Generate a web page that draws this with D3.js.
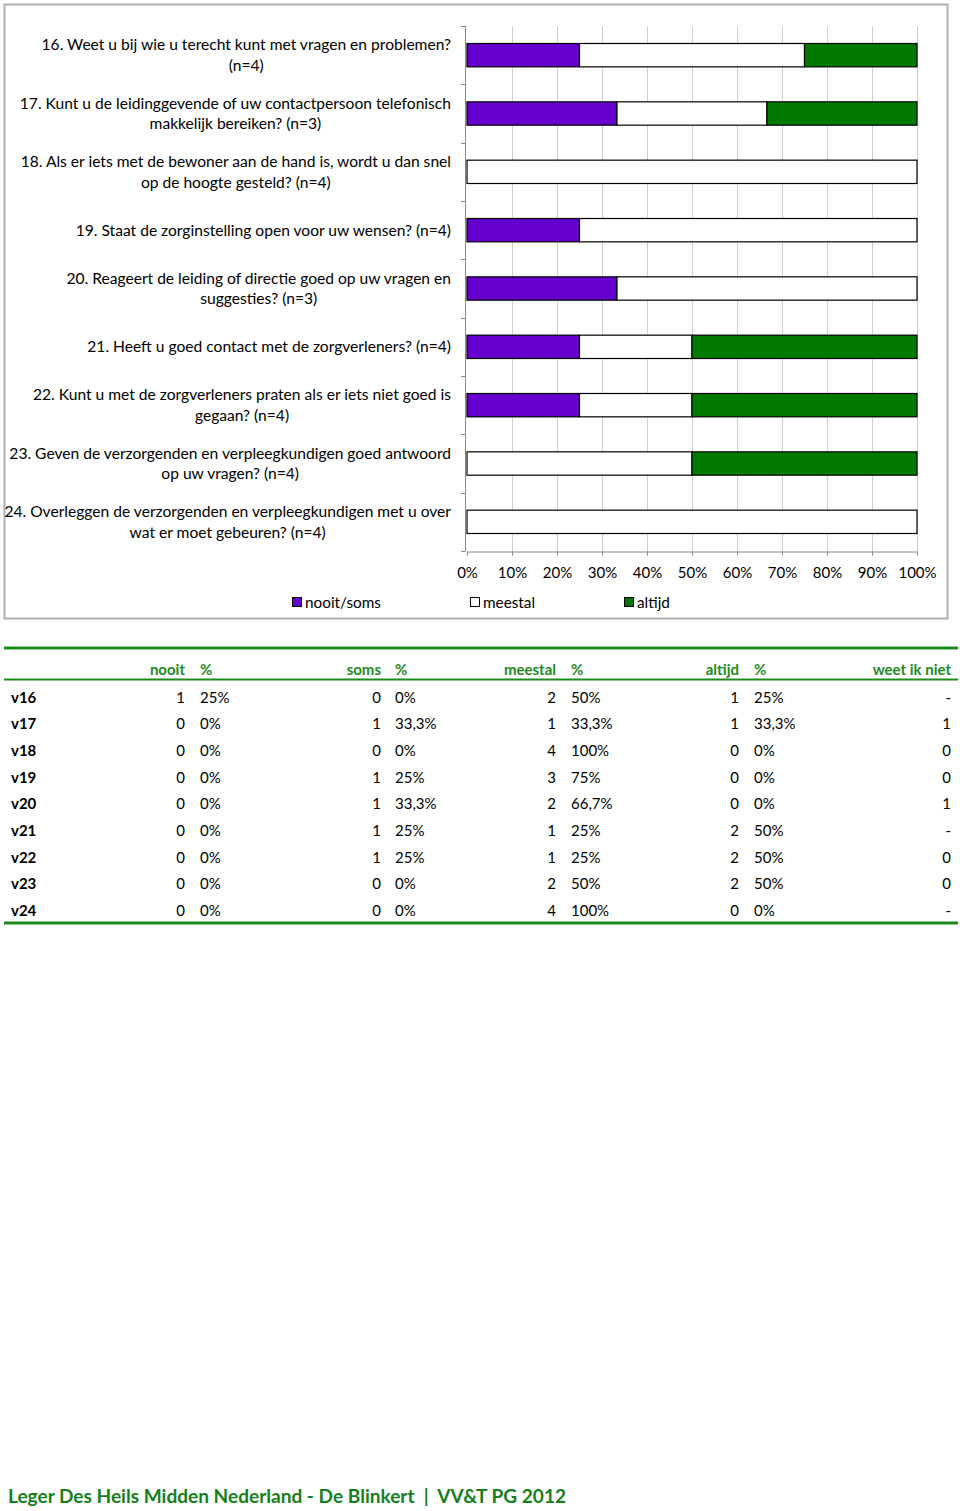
<!DOCTYPE html>
<html><head><meta charset="utf-8">
<script src="https://cdn.jsdelivr.net/npm/d3@7"></script>
<style>
body{margin:0;background:#fff;}
svg{display:block;font-family:Lato,"Open Sans",sans-serif;}
</style></head>
<body>
<svg id="c" width="960" height="1511"></svg>
<script>
// ---- data ----
const rowIds = ["v16","v17","v18","v19","v20","v21","v22","v23","v24"];
const questionLines = [
  ["16. Weet u bij wie u terecht kunt met vragen en problemen?","(n=4)"],
  ["17. Kunt u de leidinggevende of uw contactpersoon telefonisch","makkelijk bereiken? (n=3)"],
  ["18. Als er iets met de bewoner aan de hand is, wordt u dan snel","op de hoogte gesteld? (n=4)"],
  ["19. Staat de zorginstelling open voor uw wensen? (n=4)"],
  ["20. Reageert de leiding of directie goed op uw vragen en","suggesties? (n=3)"],
  ["21. Heeft u goed contact met de zorgverleners? (n=4)"],
  ["22. Kunt u met de zorgverleners praten als er iets niet goed is","gegaan? (n=4)"],
  ["23. Geven de verzorgenden en verpleegkundigen goed antwoord","op uw vragen? (n=4)"],
  ["24. Overleggen de verzorgenden en verpleegkundigen met u over","wat er moet gebeuren? (n=4)"]
];
const nooit   = [1,0,0,0,0,0,0,0,0];
const soms    = [0,1,0,1,1,1,1,0,0];
const meestal = [2,1,4,3,2,1,1,2,4];
const altijd  = [1,1,0,0,0,2,2,2,0];
const weetIkNiet = ["-","1","0","0","1","-","0","0","-"];
const seriesNames = ["nooit/soms","meestal","altijd"];
const seriesColors = ["#6600CC","#FFFFFF","#007A00"];
const xTicks = [0,0.1,0.2,0.3,0.4,0.5,0.6,0.7,0.8,0.9,1];
const tableHeaders = ["nooit","%","soms","%","meestal","%","altijd","%","weet ik niet"];
const footerText = "Leger Des Heils Midden Nederland - De Blinkert  |  VV&T PG 2012";

// ---- derived ----
const rows = rowIds.map((id,i)=>{
  const n = nooit[i]+soms[i]+meestal[i]+altijd[i];
  return {id, lines:questionLines[i], n,
    "nooit/soms":(nooit[i]+soms[i])/n, "meestal":meestal[i]/n, "altijd":altijd[i]/n,
    pn:nooit[i]/n, ps:soms[i]/n, pm:meestal[i]/n, pa:altijd[i]/n};
});
const pctFmt = v => { const p = v*100; return (Math.abs(p-Math.round(p))<1e-9 ? String(Math.round(p)) : p.toFixed(1).replace(".",",")) + "%"; };

const svg = d3.select("#c");

// chart frame
svg.append("rect").attr("x",4.5).attr("y",4.5).attr("width",943).attr("height",614)
  .attr("fill","#fff").attr("stroke","#b0b0b0").attr("stroke-width",2);

const x = d3.scaleLinear().domain([0,1]).range([467,917]);
const y = d3.scaleBand().domain(rowIds).range([26,551]).paddingInner(0.6).paddingOuter(0.3);

// gridlines
svg.append("g").selectAll("line").data(xTicks.slice(1)).join("line")
  .attr("x1",d=>x(d)+0.5).attr("x2",d=>x(d)+0.5).attr("y1",26).attr("y2",551)
  .attr("stroke","#cfcfcf").attr("stroke-width",1);

// bars
const stack = d3.stack().keys(seriesNames)(rows);
const color = d3.scaleOrdinal().domain(seriesNames).range(seriesColors);
svg.append("g").selectAll("g").data(stack).join("g")
  .attr("fill",d=>color(d.key))
  .selectAll("rect").data(d=>d.filter(s=>s[1]-s[0]>1e-9)).join("rect")
  .attr("x",d=>x(d[0])).attr("width",d=>x(d[1])-x(d[0]))
  .attr("y",d=>y(d.data.id)).attr("height",y.bandwidth())
  .attr("stroke","#000").attr("stroke-width",1.2);

// y axis (ticks at category boundaries)
const step = y.step();
const y0 = y(rowIds[0]) - y.paddingOuter()*step;
const bounds = d3.range(rowIds.length+1).map(i=>y0+i*step);
const ya = svg.append("g");
ya.append("line").attr("x1",465.5).attr("x2",465.5).attr("y1",26).attr("y2",551).attr("stroke","#888");
ya.selectAll("line.t").data(bounds).join("line").attr("class","t")
  .attr("x1",461).attr("x2",465.5).attr("y1",d=>Math.round(d)+0.5).attr("y2",d=>Math.round(d)+0.5).attr("stroke","#888");

// x axis
const xa = svg.append("g").attr("transform","translate(0,551.5)")
  .call(d3.axisBottom(x).tickValues(xTicks).tickFormat(d3.format(".0%")).tickSize(4).tickPadding(12).tickSizeOuter(0));
xa.select(".domain").attr("stroke","#888");
xa.selectAll(".tick line").attr("stroke","#888");
xa.selectAll("text").attr("font-size",15).attr("fill","#000").attr("font-family","Lato");

// category labels
const labelRight = 451;
const lg = svg.append("g").attr("font-size",15.6).attr("fill","#000");
rows.forEach(r=>{
  const cy = y(r.id)+y.bandwidth()/2;
  const t = lg.append("text").attr("text-anchor","middle");
  const nl = r.lines.length;
  r.lines.forEach((ln,j)=>{
    t.append("tspan").attr("y", cy + (j-(nl-1)/2)*20.5 + 5.5).text(ln);
  });
  let maxW = 0;
  t.selectAll("tspan").each(function(){maxW=Math.max(maxW,this.getComputedTextLength());});
  t.selectAll("tspan").attr("x", labelRight - maxW/2);
});

// legend
const legX = [292,470,624];
const leg = svg.append("g").attr("font-size",15.3);
seriesNames.forEach((s,i)=>{
  leg.append("rect").attr("x",legX[i]+0.5).attr("y",597.5).attr("width",9).attr("height",9)
    .attr("fill",color(s)).attr("stroke","#000");
  leg.append("text").attr("x",legX[i]+13).attr("y",607.5).text(s);
});

// ---- table ----
const green = "#1E8A1E";
const tbl = svg.append("g").attr("font-size",15);
tbl.append("line").attr("x1",4).attr("x2",958).attr("y1",648).attr("y2",648).attr("stroke",green).attr("stroke-width",3);
tbl.append("line").attr("x1",4).attr("x2",958).attr("y1",679.5).attr("y2",679.5).attr("stroke",green).attr("stroke-width",2);
const colX = [185,200,381,395,556,571,739,754,951];
const colAnchor = ["end","start","end","start","end","start","end","start","end"];
tableHeaders.forEach((h,i)=>{
  tbl.append("text").attr("x",colX[i]).attr("y",674.5).attr("text-anchor",colAnchor[i])
    .attr("font-weight","bold").attr("fill",green).text(h);
});
const rowY = d3.scalePoint().domain(rowIds).range([702.5,916]);
rows.forEach((r,k)=>{
  const yy = rowY(r.id);
  tbl.append("text").attr("x",11).attr("y",yy).attr("font-weight","bold").text(r.id);
  const vals = [nooit[k],pctFmt(r.pn),soms[k],pctFmt(r.ps),meestal[k],pctFmt(r.pm),altijd[k],pctFmt(r.pa),weetIkNiet[k]];
  vals.forEach((v,i)=>{
    tbl.append("text").attr("x",colX[i]).attr("y",yy).attr("text-anchor",colAnchor[i]).text(v);
  });
});
tbl.append("line").attr("x1",4).attr("x2",958).attr("y1",923).attr("y2",923).attr("stroke",green).attr("stroke-width",3);

// footer
svg.append("text").attr("x",8).attr("y",1502.5).attr("font-size",19).attr("font-weight","bold")
  .attr("fill","#15801A").attr("textLength",558).attr("lengthAdjust","spacingAndGlyphs")
  .attr("xml:space","preserve").style("white-space","pre").text(footerText);
</script>
</body></html>
